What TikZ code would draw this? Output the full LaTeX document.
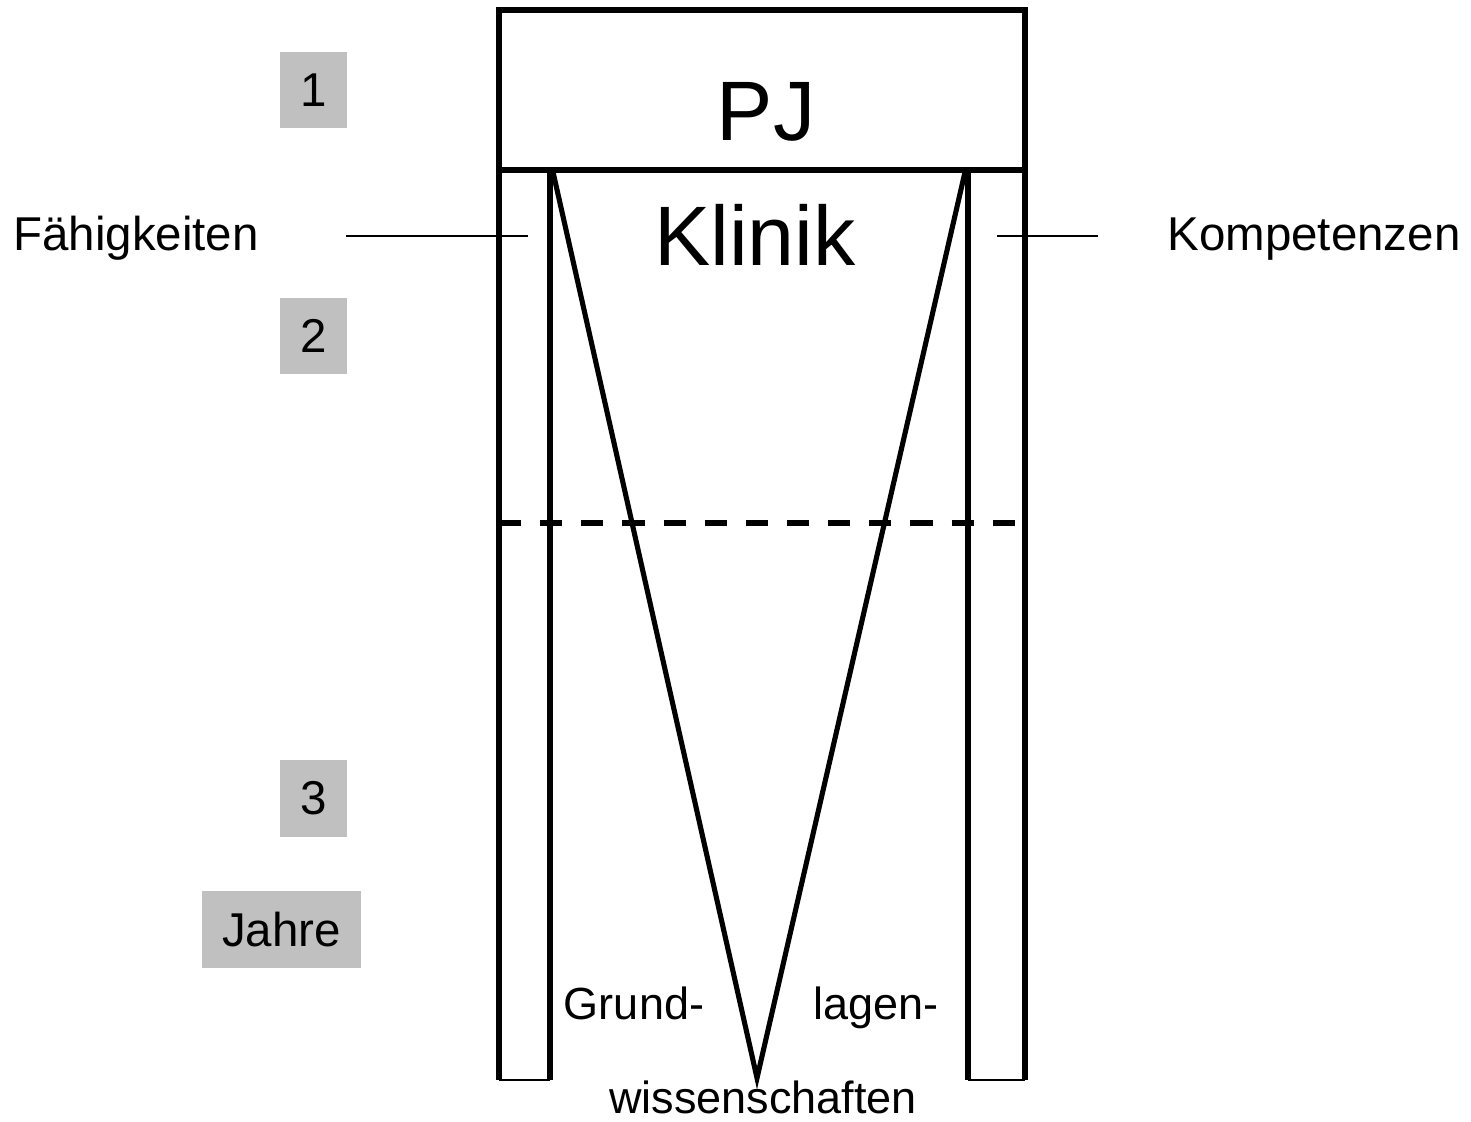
\documentclass[tikz,border=0pt]{standalone}
\usepackage{fontspec}
\setmainfont{Liberation Sans}
\usepackage{tikz}
\usetikzlibrary{positioning}

\definecolor{boxgray}{RGB}{192,192,192}

\tikzset{
	wall/.style={line width=1.6pt},
	wedge/.style={line width=1.45pt},
	leader/.style={line width=0.6pt},
	year/.style={fill=boxgray, inner sep=0pt, minimum width=0.67cm, minimum height=0.76cm, font=\fontsize{13.5}{16}\selectfont},
	txt/.style={font=\fontsize{13.5}{16}\selectfont, inner sep=0pt},
	base/.style={font=\fontsize{12.8}{15}\selectfont, inner sep=0pt},
	big/.style={font=\fontsize{24}{28}\selectfont, inner sep=0pt}
}

\begin{document}
\begin{tikzpicture}[x=0.01cm, y=-0.01cm]
	\useasboundingbox (0,0) rectangle (1471,1121);

	\draw [wall] (499,1080) -- (499,10) -- (1025,10) -- (1025,1080);
	\draw [wall] (499,170) -- (1025,170);
	\draw [wall] (550,170) -- (550,1080);
	\draw [wall] (968,170) -- (968,1080);
	\draw [leader] (499,1080) -- (550,1080);
	\draw [leader] (968,1080) -- (1025,1080);

	\coordinate (tl) at (553,172);
	\coordinate (tip) at (757,1078);
	\coordinate (tr) at (965,172);
	\draw [wedge, line join=miter] (tl) -- (tip) -- (tr);

	\draw [line width=1.9pt, dash pattern=on 6.3pt off 5.4pt] (499,523) -- (1025,523);

	\node [big, anchor=base] (pj) at (766,140) {PJ};
	\node [big, anchor=base] (klinik) at (755,265) {Klinik};

	\node [txt, anchor=base] (faeh) at (136,250) {Fähigkeiten};
	\node [txt, anchor=base] (komp) at (1314,250) {Kompetenzen};
	\coordinate (faehA) at (346,236);
	\coordinate (faehB) at (528,236);
	\coordinate (kompA) at (997,236);
	\coordinate (kompB) at (1098,236);
	\draw [leader] (faehA) -- (faehB);
	\draw [leader] (kompA) -- (kompB);

	\node [year] (y1) at (313.5,90) {1};
	\node [year] (y2) at (313.5,336) {2};
	\node [year] (y3) at (313.5,798.5) {3};
	\node [year, minimum width=1.59cm, minimum height=0.77cm] (jahre) at (281.5,929.5) {Jahre};

	\node [base, anchor=base] (grund) at (634,1019) {Grund-};
	\node [base, anchor=base] (lagen) at (876,1019) {lagen-};
	\node [base, anchor=base] (wiss) at (763,1113) {wissenschaften};
\end{tikzpicture}
\end{document}
